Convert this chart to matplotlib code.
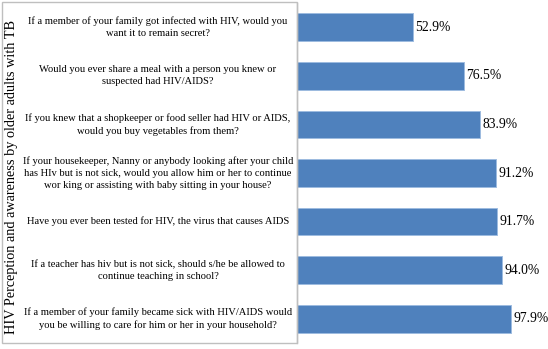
import matplotlib.pyplot as plt
from matplotlib.patches import Rectangle
from matplotlib.transforms import blended_transform_factory

questions = [
    'If a member of your family got infected with HIV, would you\nwant it to remain secret?',
    'Would you ever share a meal with a person you knew or\nsuspected had HIV/AIDS?',
    'If you knew that a shopkeeper or food seller had HIV or AIDS,\nwould you buy vegetables from them?',
    'If your housekeeper, Nanny or anybody looking after your child\nhas HIv but is not sick, would you allow him or her to continue\nwor king or assisting with baby sitting in your house?',
    'Have you ever been tested for HIV, the virus that causes AIDS',
    'If a teacher has hiv but is not sick, should s/he be allowed to\ncontinue teaching in school?',
    'If a member of your family became sick with HIV/AIDS would\nyou be willing to care for him or her in your household?',
]
percent = [52.9, 76.5, 83.9, 91.2, 91.7, 94.0, 97.9]

plt.rcParams['font.family'] = ['Liberation Serif', 'DejaVu Serif']

W, H = 548, 349
fig = plt.figure(figsize=(W / 100, H / 100), dpi=100)
ax = fig.add_axes([297 / W, 1 - 343 / H, 1 - 297 / W, 340 / H])

ypos = list(range(len(percent)))
ax.barh(ypos, percent, height=0.57, color='#4F81BD', edgecolor='#9DBBE0', linewidth=0.7)
ax.set_xlim(0, (W - 297) / 2.186)
ax.set_ylim(len(percent) - 0.5, -0.5)

for y, v in zip(ypos, percent):
    ax.annotate(f'{v:.1f}%', (v, y), xytext=(1.5, 0), textcoords='offset points',
                ha='left', va='center', fontsize=9.8)

# question labels centred in the left panel
trans = blended_transform_factory(fig.transFigure, ax.transData)
for y, q in zip(ypos, questions):
    ax.text(158 / W, y, q, transform=trans, ha='center', va='center',
            fontsize=7.6, linespacing=1.4, clip_on=False)

ax.set_xticks([])
ax.set_yticks([])
for s in ['top', 'right', 'bottom']:
    ax.spines[s].set_visible(False)
ax.spines['left'].set_color('#BFBFBF')
ax.spines['left'].set_linewidth(1.0)

# frame around label area
fig.patches.append(Rectangle((2 / W, 1 - 343 / H), 295 / W, 341 / H, transform=fig.transFigure,
                             fill=False, edgecolor='#BFBFBF', linewidth=1.0))

fig.text(12 / W, 1 - 177 / H, 'HIV Perception and awareness by older adults with TB',
         rotation=90, ha='center', va='center', fontsize=10.3)

fig.savefig('out.png', dpi=100)
